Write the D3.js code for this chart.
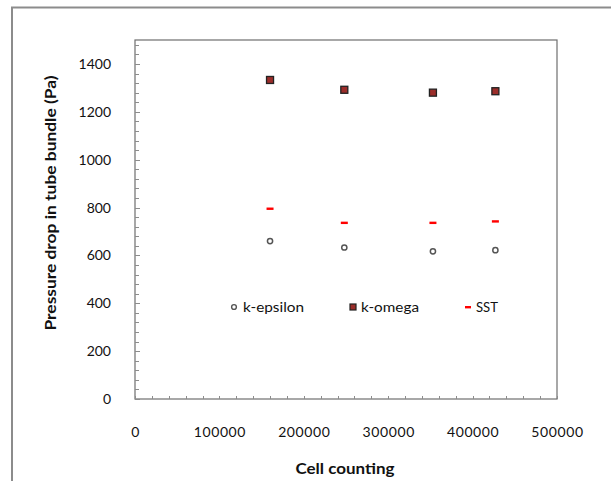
<!DOCTYPE html>
<html><head><meta charset="utf-8">
<script src="https://cdn.jsdelivr.net/npm/d3@7"></script>
<style>
body{margin:0;background:#fff;}
svg{display:block;font-family:Lato,"Open Sans",sans-serif;}
</style></head>
<body>
<svg id="chart" width="611" height="481"></svg>
<script>
const cells = [160000, 248000, 353000, 427000];
const kEpsilon = [660, 633, 617, 622];
const kOmega = [1333, 1292, 1280, 1286];
const sst = [795, 736, 736, 742];
const xTicks = [0, 100000, 200000, 300000, 400000, 500000];
const yTicks = [0, 200, 400, 600, 800, 1000, 1200, 1400];
const seriesNames = ["k-epsilon", "k-omega", "SST"];

const svg = d3.select("#chart");
const L = 135, R = 557, T = 40, B = 399;
const x = d3.scaleLinear().domain([0, 500000]).range([L, R]);
const y = d3.scaleLinear().domain([0, 1500]).range([B, T]);

// outer frame
svg.append("path").attr("d", "M12,481 L12,7.5 L611,7.5")
  .attr("fill", "none").attr("stroke", "#8c8c8c").attr("stroke-width", 2);

// plot box
svg.append("rect").attr("x", L).attr("y", T).attr("width", R - L).attr("height", B - T)
  .attr("fill", "none").attr("stroke", "#6e6e6e").attr("stroke-width", 1.2);

// y minor ticks (inside)
const yMinor = d3.range(0, 1500, 40);
svg.append("g").selectAll("line").data(yMinor).join("line")
  .attr("x1", L).attr("x2", d => L + (d % 200 === 0 ? 5 : 4))
  .attr("y1", d => Math.round(y(d)) + 0.5).attr("y2", d => Math.round(y(d)) + 0.5)
  .attr("stroke", "#8c8c8c").attr("stroke-width", 1);
// x minor ticks (inside)
const xMinor = d3.range(0, 500001, 20000);
svg.append("g").selectAll("line").data(xMinor).join("line")
  .attr("x1", d => Math.round(x(d)) + 0.5).attr("x2", d => Math.round(x(d)) + 0.5)
  .attr("y1", B).attr("y2", B - 3)
  .attr("stroke", "#8c8c8c").attr("stroke-width", 1);

// tick labels
const yAxis = d3.axisLeft(y).tickValues(yTicks).tickSize(0).tickPadding(24).tickFormat(d3.format("d"));
const gy = svg.append("g").attr("transform", `translate(${L},0)`).call(yAxis);
gy.select(".domain").remove();
gy.selectAll("text").attr("font-size", 14).attr("fill", "#111").attr("font-family", "Lato,sans-serif");

const xAxis = d3.axisBottom(x).tickValues(xTicks).tickSize(0).tickPadding(28).tickFormat(d3.format("d"));
const gx = svg.append("g").attr("transform", `translate(0,${B})`).call(xAxis);
gx.select(".domain").remove();
gx.selectAll("text").attr("font-size", 14).attr("fill", "#111").attr("font-family", "Lato,sans-serif")
  .attr("letter-spacing", "0.6px");

// axis titles
svg.append("text").attr("x", 345).attr("y", 474).attr("text-anchor", "middle")
  .attr("font-size", 15.5).attr("font-weight", "bold").attr("fill", "#111")
  .attr("textLength", 99).attr("lengthAdjust", "spacingAndGlyphs").text("Cell counting");
svg.append("text").attr("transform", "translate(56,203) rotate(-90)").attr("text-anchor", "middle")
  .attr("font-size", 15.5).attr("font-weight", "bold").attr("fill", "#111")
  .attr("textLength", 255).attr("lengthAdjust", "spacingAndGlyphs").text("Pressure drop in tube bundle (Pa)");

// markers
const kEps = cells.map((c, i) => ({c, v: kEpsilon[i]}));
const kOm = cells.map((c, i) => ({c, v: kOmega[i]}));
const sstD = cells.map((c, i) => ({c, v: sst[i]}));

svg.append("g").selectAll("circle").data(kEps).join("circle")
  .attr("cx", d => x(d.c)).attr("cy", d => y(d.v)).attr("r", 2.6)
  .attr("fill", "#fff").attr("stroke", "#555").attr("stroke-width", 1.5);
svg.append("g").selectAll("rect").data(kOm).join("rect")
  .attr("x", d => x(d.c) - 3.5).attr("y", d => y(d.v) - 3.5).attr("width", 7).attr("height", 7)
  .attr("fill", "#9b2d2a").attr("stroke", "#222").attr("stroke-width", 1.3);
svg.append("g").selectAll("rect").data(sstD).join("rect")
  .attr("x", d => x(d.c) - 3.5).attr("y", d => y(d.v) - 1.2).attr("width", 7).attr("height", 2.4)
  .attr("fill", "#ff0000");

// legend
const lg = svg.append("g").attr("font-size", 13.5).attr("fill", "#111");
const ly = 307;
lg.append("circle").attr("cx", 234).attr("cy", ly).attr("r", 2.4).attr("fill", "#fff").attr("stroke", "#555").attr("stroke-width", 1.4);
lg.append("text").attr("x", 243).attr("y", ly + 4.5).attr("textLength", 61).attr("lengthAdjust", "spacingAndGlyphs").text(seriesNames[0]);
lg.append("rect").attr("x", 350).attr("y", ly - 3).attr("width", 6).attr("height", 6).attr("fill", "#9b2d2a").attr("stroke", "#222").attr("stroke-width", 1.2);
lg.append("text").attr("x", 361).attr("y", ly + 4.5).attr("textLength", 58).attr("lengthAdjust", "spacingAndGlyphs").text(seriesNames[1]);
lg.append("rect").attr("x", 465).attr("y", ly - 1).attr("width", 6).attr("height", 2.4).attr("fill", "#ff0000");
lg.append("text").attr("x", 476).attr("y", ly + 4.5).attr("textLength", 22).attr("lengthAdjust", "spacingAndGlyphs").text(seriesNames[2]);
</script>
</body></html>
